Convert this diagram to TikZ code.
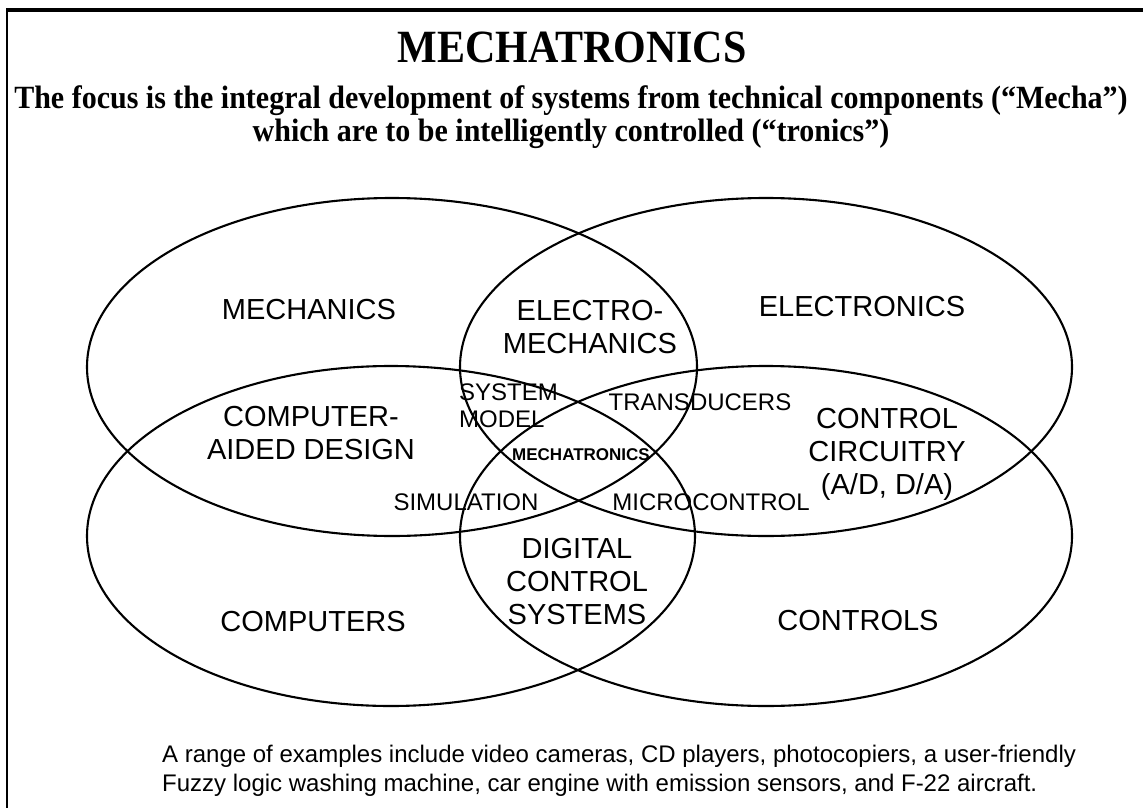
\documentclass[tikz,border=0pt]{standalone}
\usepackage{fontspec}
\setmainfont{Liberation Serif}
\newfontfamily\arialf{Liberation Sans}
\begin{document}
\begin{tikzpicture}[x=1pt,y=-1pt,
  venn/.style={line width=2.1pt},
  lbl/.style={font=\arialf\fontsize{29}{33}\selectfont, align=center, inner sep=0pt},
  sublbl/.style={font=\arialf\fontsize{24}{27}\selectfont, align=left, inner sep=0pt},
  core/.style={font=\arialf\bfseries\fontsize{17}{19}\selectfont, inner sep=0pt},
  note/.style={font=\arialf\fontsize{24}{29}\selectfont, align=left, inner sep=0pt, anchor=west}]
\useasboundingbox (0,0) rectangle (1143,808);
\fill[white] (0,0) rectangle (1143,808);
% frame
\draw[line width=3.2pt] (6,10) -- (1143,10);
\draw[line width=1.2pt] (7,10) -- (7,808);
% title
\node[font=\bfseries\fontsize{42}{45}\selectfont, inner sep=0pt] (title) at (572,47) {\scalebox{1}[1.1]{MECHATRONICS}};
\node[font=\bfseries\fontsize{30}{33}\selectfont, align=center, inner sep=0pt] (sub) at (571,117)
  {\scalebox{1}[1.08]{The focus is the integral development of systems from technical components (“Mecha”)}\\
   \scalebox{1}[1.08]{which are to be intelligently controlled (“tronics”)}};
% ellipses
\draw[venn] (392,367) ellipse [x radius=305, y radius=169];
\draw[venn] (766,367) ellipse [x radius=306, y radius=169];
\draw[venn] (391,536) ellipse [x radius=304, y radius=170];
\draw[venn] (766,536) ellipse [x radius=306, y radius=170];
% labels
\node[lbl] (mech) at (309,310) {MECHANICS};
\node[lbl] (elmech) at (590,327) {ELECTRO-\\MECHANICS};
\node[lbl] (elec) at (862,307) {ELECTRONICS};
\node[lbl] (cad) at (311,433) {COMPUTER-\\AIDED DESIGN};
\node[sublbl, anchor=west] (sysm) at (459,406) {SYSTEM\\MODEL};
\node[sublbl] (trans) at (700,402) {TRANSDUCERS};
\node[core] (mtr) at (581,455) {MECHATRONICS};
\node[lbl] (ccirc) at (887,454) {CONTROL\\CIRCUITRY\\(A/D, D/A)};
\node[sublbl] (sim) at (466,502) {SIMULATION};
\node[sublbl] (micro) at (711,502) {MICROCONTROL};
\node[lbl] (dcs) at (577,582) {DIGITAL\\CONTROL\\SYSTEMS};
\node[lbl] (comp) at (313,622) {COMPUTERS};
\node[lbl] (ctrls) at (858,621) {CONTROLS};
\node[note] (ex) at (162,771) {A range of examples include video cameras, CD players, photocopiers, a user-friendly\\
Fuzzy logic washing machine, car engine with emission sensors, and F-22 aircraft.};
\end{tikzpicture}
\end{document}
